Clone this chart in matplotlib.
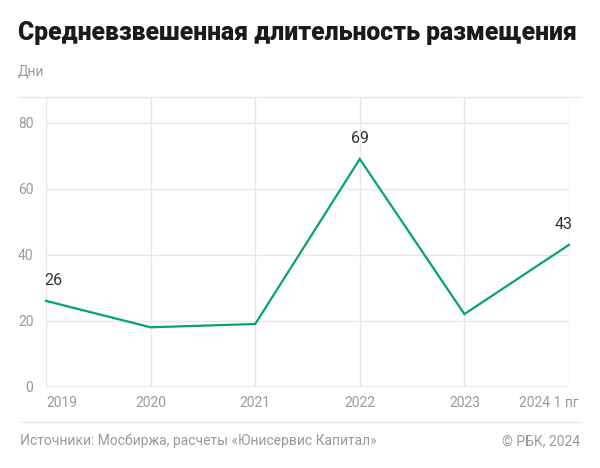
import matplotlib
matplotlib.use("Agg")
import matplotlib.pyplot as plt
from matplotlib.lines import Line2D

categories = ["2019", "2020", "2021", "2022", "2023", "2024 1 пг"]
values = [26, 18, 19, 69, 22, 43]
labeled = {0: "26", 3: "69", 5: "43"}
yticks = [0, 20, 40, 60, 80]

title = "Средневзвешенная длительность размещения"
unit = "Дни"
source = "Источники: Мосбиржа, расчеты «Юнисервис Капитал»"
copyright_ = "© РБК, 2024"

plt.rcParams['font.family'] = ['Roboto', 'DejaVu Sans']

W, H = 600, 468
fig = plt.figure(figsize=(6, 4.68), dpi=100)

def fx(px):
    return px / W

def fy(py):
    return 1 - py / H

ax_left, ax_right, ax_top, ax_bottom = 46, 569, 97, 386.7
ax = fig.add_axes([fx(ax_left), fy(ax_bottom), fx(ax_right - ax_left), (ax_bottom - ax_top) / H])

x = list(range(len(categories)))
green = "#0aa36a"
grid_c = "#e8e8e8"
text_grey = "#9a9a9a"

ax.plot(x, values, color=green, lw=1.6, solid_joinstyle='miter', zorder=3, clip_on=False)
ax.set_xlim(0, len(categories) - 1)
ymax = 80 * (ax_bottom - ax_top) / (ax_bottom - 122.7)
ax.set_ylim(0, ymax)
ax.set_yticks(yticks)
ax.set_yticklabels([str(v) for v in yticks], fontsize=10, color=text_grey)
ax.set_xticks(x)
ax.set_xticklabels([])
ax.tick_params(length=0, pad=9)
ax.grid(True, color=grid_c, lw=1)
for s in ax.spines.values():
    s.set_visible(False)
ax.axhline(0, color=grid_c, lw=1.2, zorder=1)

for i, c in enumerate(categories):
    if i == 0:
        ha, dx = 'left', 0
    elif i == len(categories) - 1:
        ha, dx = 'right', 10
    else:
        ha, dx = 'center', 0
    ax.annotate(c, (i, 0), xytext=(dx * 0.72, -16.5 * 0.72), textcoords='offset points',
                ha=ha, va='center', fontsize=10, color=text_grey, annotation_clip=False)

for i, lab in labeled.items():
    if i == 0:
        ha, dx = 'left', -2
    elif i == len(categories) - 1:
        ha, dx = 'right', 4
    else:
        ha, dx = 'center', 0
    ax.annotate(lab, (i, values[i]), xytext=(dx * 0.72, 20 * 0.72), textcoords='offset points',
                ha=ha, va='center', fontsize=11.5, color="#333333", annotation_clip=False)

fig.add_artist(Line2D([fx(19), fx(580)], [fy(97), fy(97)], color=grid_c, lw=1))
fig.add_artist(Line2D([fx(20), fx(580)], [fy(421.7), fy(421.7)], color=grid_c, lw=1))

fig.text(fx(18), fy(33), title, fontsize=17.8, fontweight='black', color="#1a1a1a", ha='left', va='center')
fig.text(fx(18), fy(72), unit, fontsize=10, color=text_grey, ha='left', va='center')
fig.text(fx(20), fy(441), source, fontsize=10, color=text_grey, ha='left', va='center')
fig.text(fx(580), fy(441), copyright_, fontsize=10, color=text_grey, ha='right', va='center')

fig.savefig("out.png", dpi=100)
